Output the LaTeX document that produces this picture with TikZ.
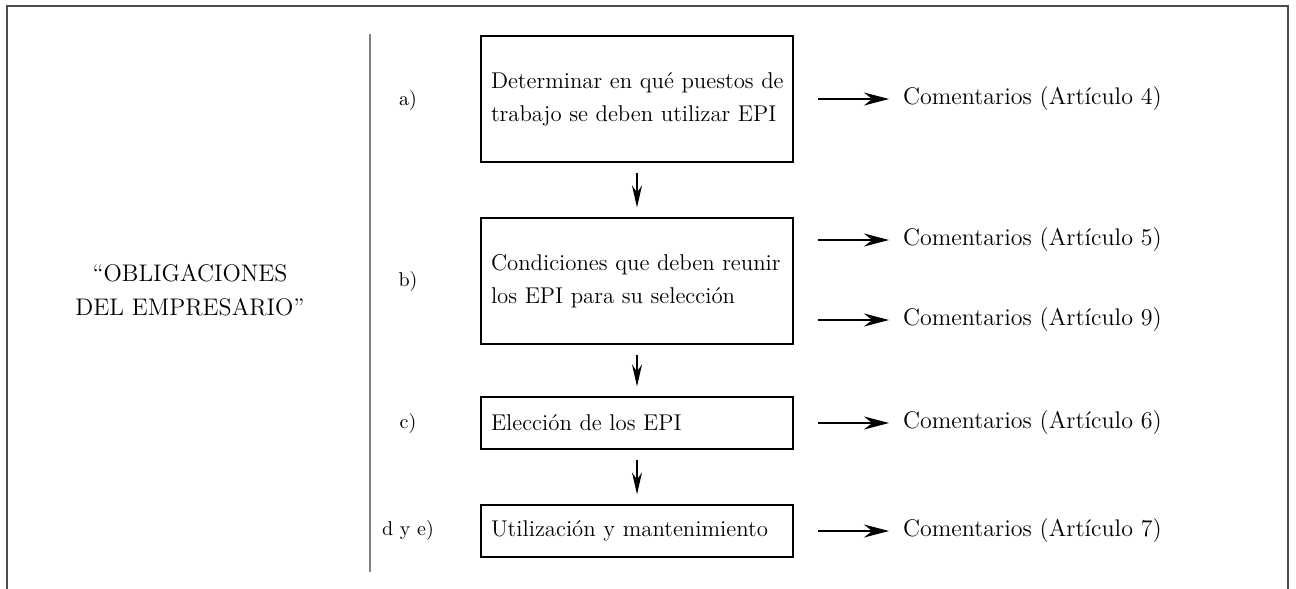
\documentclass[tikz,border=0pt]{standalone}
\usepackage{tikz}
\usetikzlibrary{arrows.meta}

\begin{document}
\begin{tikzpicture}[x=0.5pt, y=-0.5pt]
        \useasboundingbox (0,0) rectangle (1296,589);
        \draw[black!70, line width=1.1pt] (7,589) -- (7,6) -- (1288,6) -- (1288,589);
        \draw[gray, line width=0.7pt] (370,34) -- (370,572);

        \node[align=center, font=\fontsize{12}{16}\selectfont] (T) at (190,290) {``OBLIGACIONES\\[1pt]DEL EMPRESARIO''};

        \begin{scope}[every node/.style={draw, line width=0.6pt, text width=146pt, inner xsep=5pt, align=left, font=\fontsize{11.4}{16.5}\selectfont}]
                \node [minimum height=63pt] (A) at (637,99) {\mbox{Determinar en qué puestos de}\\\mbox{trabajo se deben utilizar EPI}};
                \node [minimum height=63pt] (B) at (637,281) {\mbox{Condiciones que deben reunir}\\\mbox{los EPI para su selección}};
                \node [minimum height=26pt] (C) at (637,423) {Elección de los EPI};
                \node [minimum height=26pt] (D) at (637,531) {\mbox{Utilización y mantenimiento}};
        \end{scope}

        \begin{scope}[every node/.style={font=\fontsize{10}{12}\selectfont}]
                \node (la) at (408,100) {a)};
                \node (lb) at (408,281) {b)};
                \node (lc) at (408,423) {c)};
                \node (ld) at (408,530) {d y e)};
        \end{scope}

        \begin{scope}[every node/.style={anchor=west, font=\fontsize{12}{14}\selectfont}]
                \node (CA) at (896,99) {Comentarios (Artículo 4)};
                \node (CB1) at (896,240) {Comentarios (Artículo 5)};
                \node (CB2) at (896,320) {Comentarios (Artículo 9)};
                \node (CC) at (896,423) {Comentarios (Artículo 6)};
                \node (CD) at (896,531) {Comentarios (Artículo 7)};
        \end{scope}

        \begin{scope}[every path/.style={line width=0.6pt, -{Stealth[length=12.5pt, width=6.5pt]}, shorten <=12pt, shorten >=3.5pt},
                      dn/.style={-{Stealth[length=11pt, width=5pt]}, shorten <=5pt, shorten >=5pt}]
                \path (A) edge [dn] (B);
                \path (B) edge [dn] (C);
                \path (C) edge [dn] (D);
                \path (A.east) edge (CA);
                \path (B.east |- CB1) edge (CB1);
                \path (B.east |- CB2) edge (CB2);
                \path (C.east) edge (CC);
                \path (D.east) edge (CD);
        \end{scope}
\end{tikzpicture}
\end{document}
